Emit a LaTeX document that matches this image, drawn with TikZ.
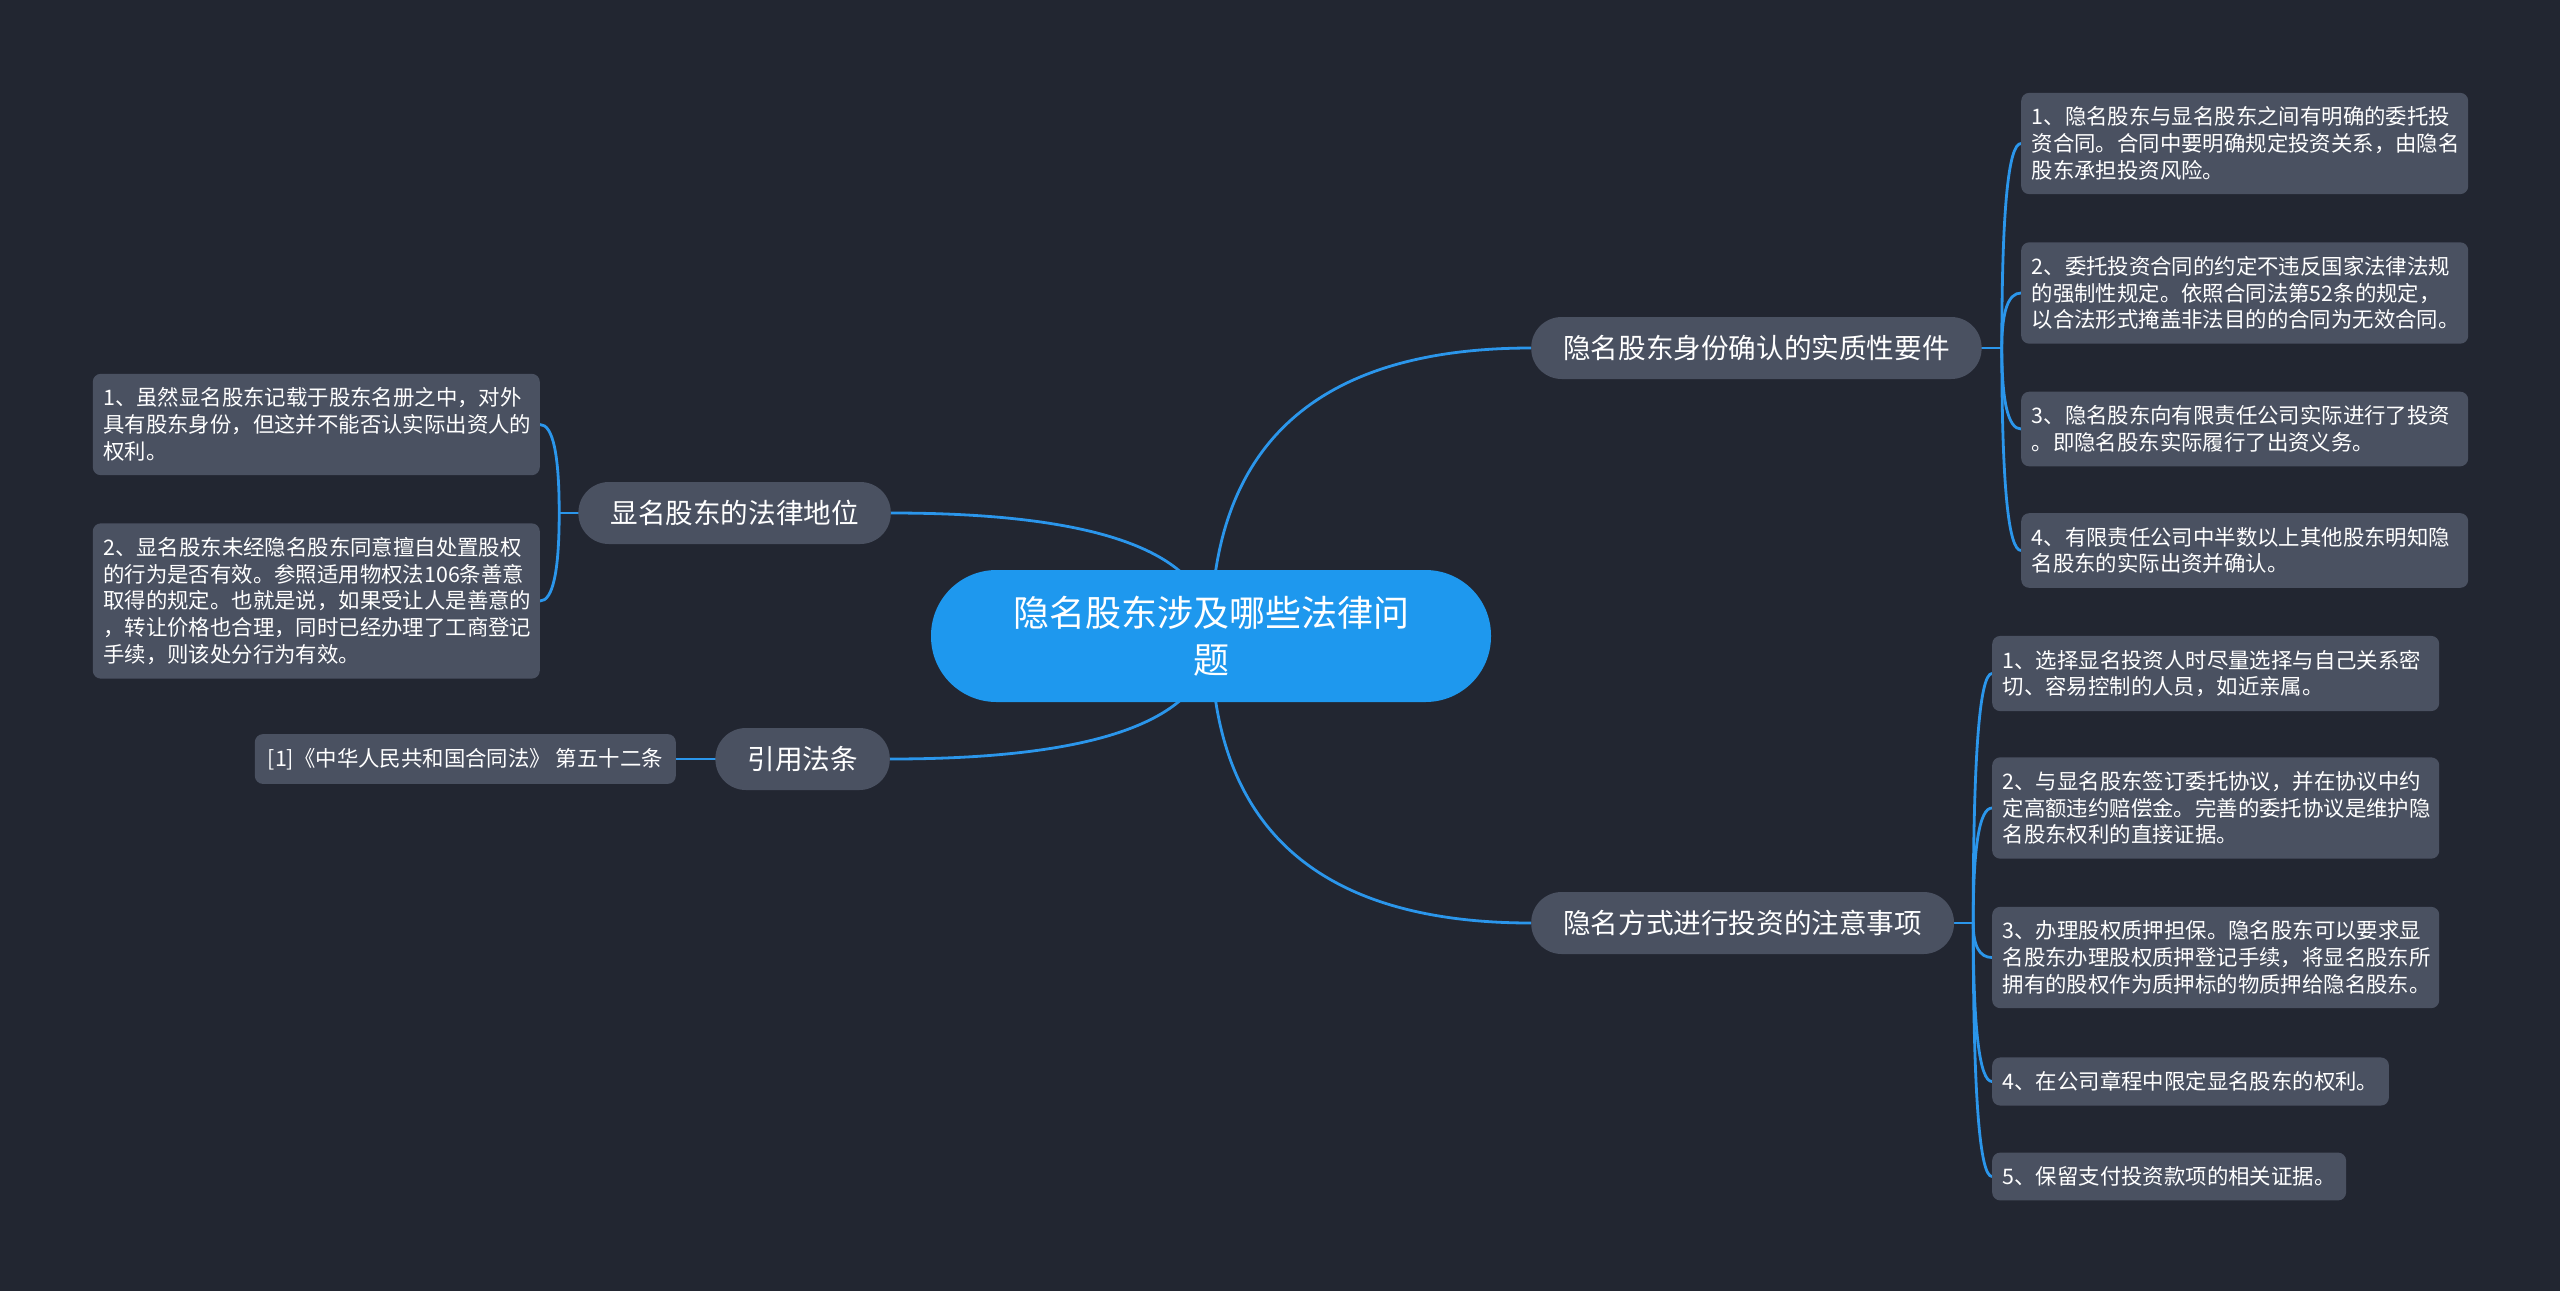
\documentclass[tikz,border=0pt]{standalone}
\usepackage{fontspec}
\setmainfont{Noto Sans CJK SC}
\usetikzlibrary{calc,backgrounds}
\definecolor{bgc}{HTML}{222631}
\definecolor{nodec}{HTML}{4A5161}
\definecolor{linec}{HTML}{2B96EB}
\definecolor{rootc}{HTML}{1E98EE}
\begin{document}
\begin{tikzpicture}[x=1pt,y=-1pt,
  conn/.style={draw=linec, line width=2.8pt, line cap=round},
  qcurve/.style={to path={.. controls ($(\tikztostart)!0.6667!(\tikztostart |- \tikztotarget)$) and ($(\tikztotarget)!0.6667!(\tikztostart |- \tikztotarget)$) .. (\tikztotarget)}},
  rootnode/.style={fill=rootc, rounded corners=65.5pt, minimum width=560pt, minimum height=132pt, align=center, text=white, font=\fontsize{36}{47}\selectfont, inner sep=0pt},
  branch/.style={fill=nodec, rounded corners=30.5pt, minimum height=62pt, inner xsep=32pt, inner ysep=0pt, text=white, font=\fontsize{27.6}{32}\selectfont},
  leaf/.style={fill=nodec, rounded corners=8pt, inner xsep=10.5pt, inner ysep=14pt, text=white, font=\fontsize{21.4}{26.7}\selectfont, align=left},
  wide/.style={text width=426pt}
]
\useasboundingbox (0,0) rectangle (2560,1291);

\node[rootnode] (root) at (1211,636) {隐名股东涉及哪些法律问\\题};
\node[branch, anchor=west] (r1) at (1531,348) {隐名股东身份确认的实质性要件};
\node[branch, anchor=west] (r2) at (1531,923) {隐名方式进行投资的注意事项};
\node[branch, anchor=east] (l1) at (891,513) {显名股东的法律地位};
\node[branch, anchor=east] (l2) at (890,759) {引用法条};

\node[leaf, wide, anchor=west] (a1) at (2021,143.5) {1、隐名股东与显名股东之间有明确的委托投\\资合同。合同中要明确规定投资关系，由隐名\\股东承担投资风险。};
\node[leaf, wide, anchor=west] (a2) at (2021,293) {2、委托投资合同的约定不违反国家法律法规\\的强制性规定。依照合同法第52条的规定，\\以合法形式掩盖非法目的的合同为无效合同。};
\node[leaf, wide, anchor=west] (a3) at (2021,429) {3、隐名股东向有限责任公司实际进行了投资\\。即隐名股东实际履行了出资义务。};
\node[leaf, wide, anchor=west] (a4) at (2021,550.5) {4、有限责任公司中半数以上其他股东明知隐\\名股东的实际出资并确认。};

\node[leaf, wide, anchor=west] (b1) at (1992,673.5) {1、选择显名投资人时尽量选择与自己关系密\\切、容易控制的人员，如近亲属。};
\node[leaf, wide, anchor=west] (b2) at (1992,808) {2、与显名股东签订委托协议，并在协议中约\\定高额违约赔偿金。完善的委托协议是维护隐\\名股东权利的直接证据。};
\node[leaf, wide, anchor=west] (b3) at (1992,957.5) {3、办理股权质押担保。隐名股东可以要求显\\名股东办理股权质押登记手续，将显名股东所\\拥有的股权作为质押标的物质押给隐名股东。};
\node[leaf, anchor=west] (b4) at (1992,1081.5) {4、在公司章程中限定显名股东的权利。};
\node[leaf, anchor=west] (b5) at (1992,1176.5) {5、保留支付投资款项的相关证据。};

\node[leaf, wide, anchor=east] (c1) at (540,424.5) {1、虽然显名股东记载于股东名册之中，对外\\具有股东身份，但这并不能否认实际出资人的\\权利。};
\node[leaf, wide, anchor=east] (c2) at (540,601) {2、显名股东未经隐名股东同意擅自处置股权\\的行为是否有效。参照适用物权法106条善意\\取得的规定。也就是说，如果受让人是善意的\\，转让价格也合理，同时已经办理了工商登记\\手续，则该处分行为有效。};

\node[leaf, anchor=east, inner xsep=13pt] (d1) at (676,759) {[1]《中华人民共和国合同法》 第五十二条};

\begin{scope}[on background layer]
\fill[bgc] (0,0) rectangle (2560,1291);
\draw[conn] (root.center) to[qcurve] (r1.west);
\draw[conn] (root.center) to[qcurve] (r2.west);
\draw[conn] (root.center) to[qcurve] (l1.east);
\draw[conn] (root.center) to[qcurve] (l2.east);
\draw[conn] (r1.east) -- ++(20,0) coordinate (jr1);
\foreach \n in {a1,a2,a3,a4} \draw[conn] (jr1) to[qcurve] (\n.west);
\draw[conn] (r2.east) -- ++(19,0) coordinate (jr2);
\foreach \n in {b1,b2,b3,b4,b5} \draw[conn] (jr2) to[qcurve] (\n.west);
\draw[conn] (l1.west) -- ++(-19,0) coordinate (jl1);
\foreach \n in {c1,c2} \draw[conn] (jl1) to[qcurve] (\n.east);
\draw[conn] (l2.west) -- (d1.east);
\end{scope}
\end{tikzpicture}
\end{document}
